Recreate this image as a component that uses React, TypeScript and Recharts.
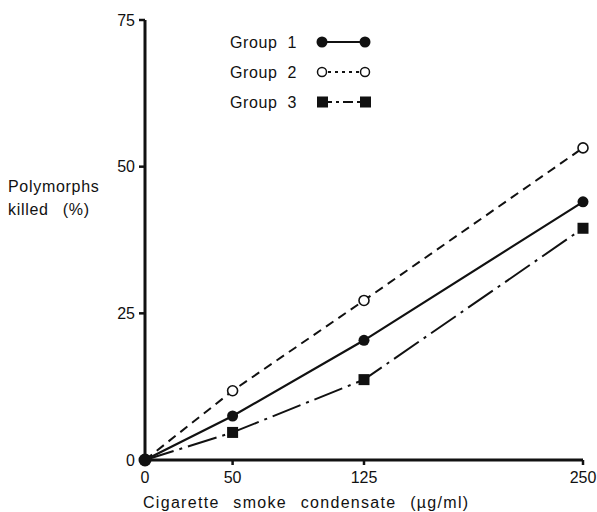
import { Label, Legend, Line, LineChart, XAxis, YAxis } from "recharts";

const doses = [0, 50, 125, 250];
const group1 = [0, 7.5, 20.4, 44];
const group2 = [0, 11.8, 27.2, 53.2];
const group3 = [0, 4.7, 13.7, 39.5];
const xTicks = [0, 50, 125, 250];
const yTicks = [0, 25, 50, 75];
const seriesNames = ["Group 1", "Group 2", "Group 3"];

const FONT = '"Liberation Sans", Arial, sans-serif';
const INK = "#111";

const rows = doses.map((d, i) => ({
  dose: d,
  g1: group1[i],
  g2: group2[i],
  g3: group3[i],
}));

function FilledDot(props: any) {
  const { cx, cy, index, value } = props;
  if (cx == null || cy == null) return <g key={index} />;
  return <circle key={index} cx={cx} cy={cy} r={value === 0 ? 6.5 : 5.5} fill={INK} />;
}

function OpenDot(props: any) {
  const { cx, cy, index, value } = props;
  if (cx == null || cy == null || value === 0) return <g key={index} />;
  return <circle key={index} cx={cx} cy={cy} r={5} fill="#fff" stroke={INK} strokeWidth={1.6} />;
}

function SquareDot(props: any) {
  const { cx, cy, index, value } = props;
  if (cx == null || cy == null || value === 0) return <g key={index} />;
  return <rect key={index} x={cx - 5.5} y={cy - 5.5} width={11} height={11} fill={INK} />;
}

function LegendBox() {
  const rowY = [17, 47, 77];
  return (
    <svg width={180} height={92} style={{ display: "block" }}>
      {seriesNames.map((name, i) => (
        <text
          key={name}
          x={8}
          y={rowY[i] + 6}
          fontSize={16}
          fontFamily={FONT}
          fill={INK}
          letterSpacing={0.6}
          wordSpacing={5}
        >
          {name}
        </text>
      ))}
      <line x1={100} x2={143} y1={rowY[0]} y2={rowY[0]} stroke={INK} strokeWidth={2} />
      <circle cx={100} cy={rowY[0]} r={5.5} fill={INK} />
      <circle cx={143} cy={rowY[0]} r={5.5} fill={INK} />

      <line x1={106} x2={138} y1={rowY[1]} y2={rowY[1]} stroke={INK} strokeWidth={2} strokeDasharray="3 4" />
      <circle cx={100} cy={rowY[1]} r={4.5} fill="#fff" stroke={INK} strokeWidth={1.5} />
      <circle cx={143} cy={rowY[1]} r={4.5} fill="#fff" stroke={INK} strokeWidth={1.5} />

      <line x1={100} x2={143} y1={rowY[2]} y2={rowY[2]} stroke={INK} strokeWidth={2} strokeDasharray="10 4 3 4" />
      <rect x={95} y={rowY[2] - 5.5} width={11} height={11} fill={INK} />
      <rect x={138} y={rowY[2] - 5.5} width={11} height={11} fill={INK} />
    </svg>
  );
}

function YTitle() {
  return (
    <text x={8} y={192} fontSize={16} fontFamily={FONT} fill={INK} letterSpacing={0.7}>
      <tspan x={8} dy={0}>Polymorphs</tspan>
      <tspan x={8} dy={23} wordSpacing={9}>killed (%)</tspan>
    </text>
  );
}

function XTitle(props: any) {
  const vb = props.viewBox || { x: 145, y: 460 };
  return (
    <text
      x={vb.x - 2}
      y={vb.y + 48}
      fontSize={16}
      fontFamily={FONT}
      fill={INK}
      letterSpacing={1.3}
      wordSpacing={8}
    >
      Cigarette smoke condensate (µg/ml)
    </text>
  );
}

export default function App() {
  return (
    <div style={{ position: "absolute", left: 0, top: 0, width: 597, height: 512, background: "#fff" }}>
      <LineChart
        width={597}
        height={512}
        data={rows}
        margin={{ top: 20, right: 14, bottom: 0, left: 0 }}
      >
        <XAxis
          dataKey="dose"
          type="number"
          domain={[0, 250]}
          ticks={xTicks}
          interval={0}
          height={52}
          axisLine={{ stroke: INK, strokeWidth: 3 }}
          tickLine={{ stroke: INK, strokeWidth: 2.5 }}
          tickSize={5}
          tickMargin={7}
          tick={{ fill: INK, fontSize: 16, fontFamily: FONT }}
        >
          <Label content={XTitle} />
        </XAxis>
        <YAxis
          type="number"
          domain={[0, 75]}
          ticks={yTicks}
          interval={0}
          width={145}
          axisLine={{ stroke: INK, strokeWidth: 3 }}
          tickLine={{ stroke: INK, strokeWidth: 2.5 }}
          tickSize={6}
          tickMargin={4}
          tick={{ fill: INK, fontSize: 16, fontFamily: FONT }}
        >
          <Label content={YTitle} />
        </YAxis>
        <Legend
          layout="horizontal"
          verticalAlign="middle"
          align="center"
          content={() => <LegendBox />}
          wrapperStyle={{ top: 25, left: 222, width: 180, height: 92 }}
        />
        <Line
          dataKey="g2"
          name="Group 2"
          stroke={INK}
          strokeWidth={2}
          strokeDasharray="9 6"
          dot={OpenDot}
          activeDot={false}
          isAnimationActive={false}
        />
        <Line
          dataKey="g3"
          name="Group 3"
          stroke={INK}
          strokeWidth={2}
          strokeDasharray="30 6 3 6"
          dot={SquareDot}
          activeDot={false}
          isAnimationActive={false}
        />
        <Line
          dataKey="g1"
          name="Group 1"
          stroke={INK}
          strokeWidth={2.2}
          dot={FilledDot}
          activeDot={false}
          isAnimationActive={false}
        />
      </LineChart>
    </div>
  );
}
